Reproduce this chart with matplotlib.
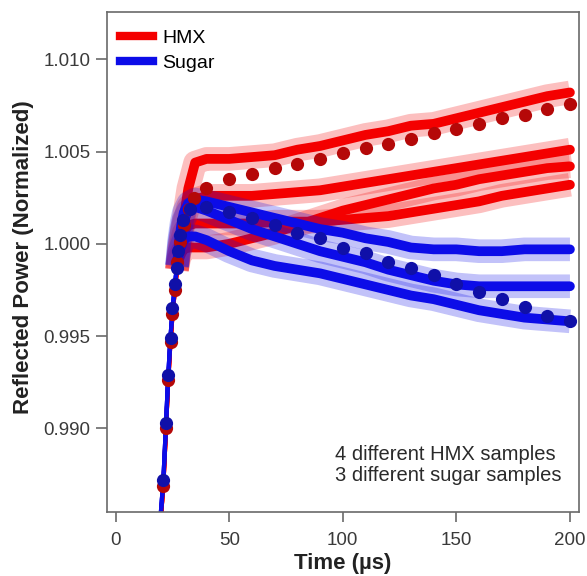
import matplotlib.pyplot as plt
from matplotlib.lines import Line2D

plt.rcParams['font.family'] = ['Liberation Sans', 'DejaVu Sans']

# time base (us) shared by all traces
time_us = [19, 21, 22, 23, 24, 25, 26, 27, 28, 29, 30, 32, 35,
           40, 50, 60, 70, 80, 90, 100, 110, 120, 130, 140, 150,
           160, 170, 180, 190, 200]

# HMX traces (normalized reflected power)
hmx_1 = [0.9837, 0.9869, 0.9895, 0.9922, 0.9944, 0.9961, 0.9974, 0.9986,
         0.9998, 1.0006, 1.0014, 1.0030, 1.0044,
         1.0046, 1.0046, 1.0047, 1.0048, 1.0051, 1.0053, 1.0056, 1.0059,
         1.0061, 1.0064, 1.0065, 1.0068, 1.0071, 1.0074, 1.0077, 1.0080, 1.0082]
hmx_2 = [0.9837, 0.9869, 0.9895, 0.9922, 0.9944, 0.9961, 0.9974, 0.9986,
         0.9997, 1.0005, 1.0011, 1.0020, 1.0024,
         1.0026, 1.0026, 1.0026, 1.0027, 1.0028, 1.0029, 1.0031, 1.0033,
         1.0035, 1.0037, 1.0039, 1.0041, 1.0043, 1.0045, 1.0047, 1.0049, 1.0051]
hmx_3 = [0.9837, 0.9869, 0.9895, 0.9922, 0.9944, 0.9961, 0.9974, 0.9986,
         0.9995, 1.0001, 1.0006, 1.0010, 1.0011,
         1.0011, 1.0011, 1.0011, 1.0012, 1.0012, 1.0012, 1.0013, 1.0014,
         1.0015, 1.0017, 1.0019, 1.0021, 1.0023, 1.0026, 1.0028, 1.0030, 1.0032]
hmx_4 = [0.9837, 0.9869, 0.9895, 0.9922, 0.9944, 0.9961, 0.9974, 0.9986,
         0.9992, 0.9995, 0.9997, 0.9998, 0.9998,
         0.9998, 1.0000, 1.0003, 1.0006, 1.0010, 1.0014, 1.0018, 1.0021,
         1.0024, 1.0027, 1.0030, 1.0032, 1.0035, 1.0037, 1.0039, 1.0041, 1.0042]

# sugar traces
sugar_1 = [0.9840, 0.9872, 0.9898, 0.9925, 0.9947, 0.9964, 0.9977, 0.9988,
           1.0002, 1.0011, 1.0017, 1.0022, 1.0024,
           1.0023, 1.0020, 1.0017, 1.0014, 1.0011, 1.0008, 1.0006, 1.0003,
           1.0001, 0.9998, 0.9997, 0.9997, 0.9996, 0.9996, 0.9997, 0.9997, 0.9997]
sugar_2 = [0.9840, 0.9872, 0.9898, 0.9925, 0.9947, 0.9964, 0.9977, 0.9988,
           1.0000, 1.0008, 1.0013, 1.0018, 1.0020,
           1.0018, 1.0013, 1.0008, 1.0004, 1.0000, 0.9996, 0.9993, 0.9990,
           0.9986, 0.9983, 0.9980, 0.9978, 0.9977, 0.9977, 0.9977, 0.9977, 0.9977]
sugar_3 = [0.9840, 0.9872, 0.9898, 0.9925, 0.9947, 0.9964, 0.9977, 0.9988,
           0.9995, 0.9999, 1.0002, 1.0004, 1.0004,
           1.0002, 0.9996, 0.9991, 0.9988, 0.9986, 0.9984, 0.9981, 0.9978,
           0.9975, 0.9972, 0.9970, 0.9967, 0.9964, 0.9962, 0.9960, 0.9959, 0.9958]

# marker series
hmx_mark_t = [21.0, 22.2, 23.2, 24.3, 25.0, 26.2, 27.0, 28.4, 30.0, 32.5, 34.5,
              40, 50, 60, 70, 80, 90, 100, 110, 120, 130, 140, 150,
              160, 170, 180, 190, 200]
hmx_mark_v = [0.9869, 0.9900, 0.9926, 0.9947, 0.9962, 0.9975, 0.9990, 1.0001,
              1.0010, 1.0019, 1.0025,
              1.0030, 1.0035, 1.0038, 1.0041, 1.0043, 1.0046, 1.0049, 1.0052,
              1.0054, 1.0057, 1.0060, 1.0062, 1.0065, 1.0068, 1.0070, 1.0073, 1.0076]
sugar_mark_t = [21.0, 22.2, 23.2, 24.3, 25.0, 26.2, 26.9, 27.4, 28.4, 29.8, 32.8,
                40, 50, 60, 70, 80, 90, 100, 110, 120, 130, 140, 150,
                160, 170, 180, 190, 200]
sugar_mark_v = [0.9872, 0.9903, 0.9929, 0.9949, 0.9965, 0.9978, 0.9987, 0.9996,
                1.0005, 1.0013, 1.0019,
                1.0020, 1.0017, 1.0014, 1.0010, 1.0006, 1.0003, 0.9998, 0.9995,
                0.9990, 0.9987, 0.9983, 0.9978, 0.9974, 0.9970, 0.9966, 0.9961, 0.9958]

red = '#f40000'
blue = '#0c0ce8'
gray = '#6a6a6a'
rise_end = 7  # index where the steep rise turns into the noisy plateau

fig = plt.figure(figsize=(5.87, 5.76), dpi=100)
ax = fig.add_axes([0.1823, 0.1111, 0.8041, 0.8681])


def draw_trace(vals, color):
    ax.plot(time_us[:rise_end + 1], vals[:rise_end + 1], color=color, lw=3,
            solid_capstyle='butt')
    ax.plot(time_us[rise_end:], vals[rise_end:], color=color, lw=17,
            alpha=0.25, solid_capstyle='butt')
    ax.plot(time_us[rise_end:], vals[rise_end:], color=color, lw=7,
            solid_capstyle='round')


for trace in [hmx_1, hmx_2, hmx_3, hmx_4]:
    draw_trace(trace, red)
for trace in [sugar_1, sugar_2, sugar_3]:
    draw_trace(trace, blue)

ax.plot(hmx_mark_t, hmx_mark_v, 'o', color='#b50808', ms=9.5, mew=0)
ax.plot(sugar_mark_t, sugar_mark_v, 'o', color='#1010a8', ms=9.5, mew=0)

ax.set_xlim(-3.8, 204)
ax.set_ylim(0.98547, 1.01256)
ax.set_xticks([0, 50, 100, 150, 200])
ax.set_yticks([0.990, 0.995, 1.000, 1.005, 1.010])
ax.set_yticklabels(['0.990', '0.995', '1.000', '1.005', '1.010'])

for s in ax.spines.values():
    s.set_color(gray)
    s.set_linewidth(1.2)
ax.tick_params(axis='both', colors=gray, labelcolor='#3a3a3a', labelsize=13.5,
               direction='out', width=1.2)
ax.tick_params(axis='x', length=7.2, pad=7)
ax.tick_params(axis='y', length=8, pad=4)

ax.set_xlabel('Time (µs)', fontsize=16, fontweight='bold', color='#222222')
ax.set_ylabel('Reflected Power (Normalized)', fontsize=16, fontweight='bold',
              color='#222222')
ax.xaxis.set_label_coords(0.5, -0.082)
ax.yaxis.set_label_coords(-0.155, 0.51)

ax.text(0.483, 0.134, '4 different HMX samples\n3 different sugar samples',
        transform=ax.transAxes, fontsize=14.5, color='#2a2a2a', va='top',
        ha='left', linespacing=1.1)

handles = [Line2D([], [], color=red, lw=6), Line2D([], [], color=blue, lw=6)]
ax.legend(handles, ['HMX', 'Sugar'], loc='upper left', frameon=False,
          fontsize=14, handlelength=1.7, handletextpad=0.5,
          labelspacing=0.35, borderpad=0, borderaxespad=0,
          bbox_to_anchor=(0.027, 0.965))

fig.savefig('out.png', dpi=100)
